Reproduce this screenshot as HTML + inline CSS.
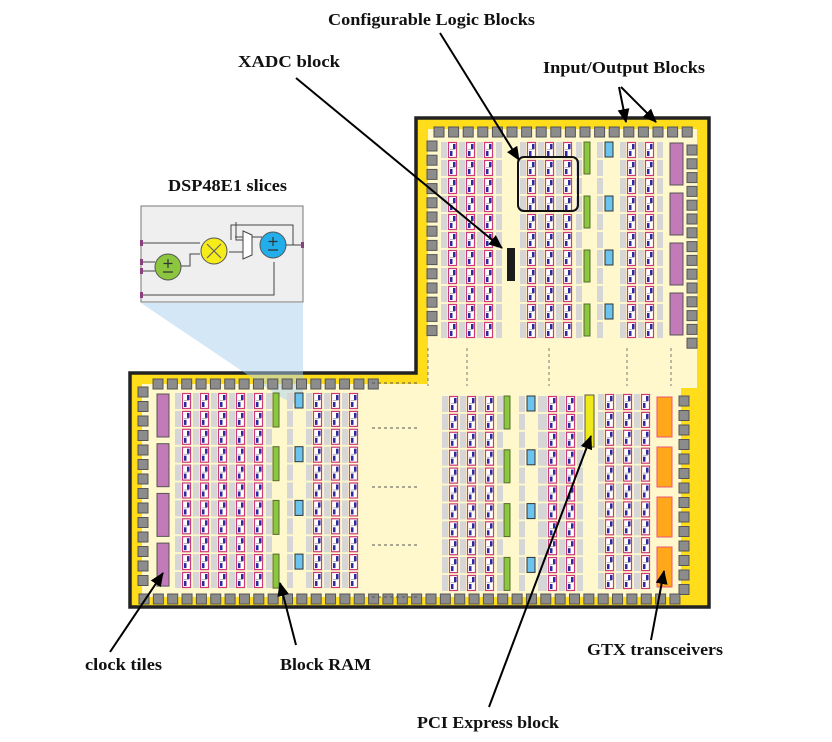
<!DOCTYPE html>
<html><head><meta charset="utf-8"><style>
html,body{margin:0;padding:0;background:#fff;}
svg{display:block}
text{font-family:"Liberation Serif",serif;font-weight:bold;font-size:16.5px;fill:#111}
</style></head><body>
<svg id="s" width="832" height="742" viewBox="0 0 832 742" xmlns="http://www.w3.org/2000/svg">
<defs>
<marker id="ah2" markerWidth="14" markerHeight="14" refX="13" refY="7" orient="auto" markerUnits="userSpaceOnUse" viewBox="0 0 14 14">
<path d="M0,1 L14,7 L0,13 z" fill="#000"/></marker>
</defs>
<g id="g"></g>
<text x="328" y="25" textLength="207" lengthAdjust="spacingAndGlyphs">Configurable Logic Blocks</text>
<text x="238" y="67" textLength="102" lengthAdjust="spacingAndGlyphs">XADC block</text>
<text x="543" y="73" textLength="162" lengthAdjust="spacingAndGlyphs">Input/Output Blocks</text>
<text x="168" y="191" textLength="119" lengthAdjust="spacingAndGlyphs">DSP48E1 slices</text>
<text x="85" y="670" textLength="77" lengthAdjust="spacingAndGlyphs">clock tiles</text>
<text x="280" y="670" textLength="91" lengthAdjust="spacingAndGlyphs">Block RAM</text>
<text x="587" y="655" textLength="136" lengthAdjust="spacingAndGlyphs">GTX transceivers</text>
<text x="417" y="728" textLength="142" lengthAdjust="spacingAndGlyphs">PCI Express block</text>
</svg>
<script>
var h='';
function R(x,y,w,hh,f,st,sw,extra){h+='<rect x="'+x+'" y="'+y+'" width="'+w+'" height="'+hh+'" fill="'+f+'"'+(st?' stroke="'+st+'" stroke-width="'+(sw||1)+'"':'')+(extra||'')+'/>';}
function L(x1,y1,x2,y2,st,sw,extra){h+='<line x1="'+x1+'" y1="'+y1+'" x2="'+x2+'" y2="'+y2+'" stroke="'+st+'" stroke-width="'+sw+'"'+(extra||'')+'/>';}
h+='<path d="M416,118 L709,118 L709,607 L130,607 L130,373 L416,373 Z" fill="#FFDD1A" stroke="#222" stroke-width="3.5"/>';
h+='<path d="M428,129 L697,129 L697,388 L681,388 L681,597 L142,597 L142,384 L428,384 Z" fill="#FFF8CC"/>';
h+='<path d="M141,303 L303,303 L303,408 L282,398 Z" fill="#a9cff0" opacity="0.5"/>';
function P(x,y){R(x,y,10,10,'#8c8c8c','#555',1);}
for(var x=434;x<=685;x+=14.6)P(x,127);
for(var y=141;y<=330;y+=14.2)P(427,y);
for(var y=145;y<=340;y+=13.8)P(687,y);
for(var y=396;y<=586;y+=14.5)P(679,y);
for(var x=139;x<=684;x+=14.35)P(x,594);
for(var x=153;x<=370;x+=14.35)P(x,379);
for(var y=387;y<=585;y+=14.5)P(138,y);
function G(x,y){R(x,y,6,16,'#d6d6d6');}
function C(x,y){R(x+0.5,y+0.5,8,15,'#fff','#cc3a7a',1.2);R(x+5,y+2,2.5,5,'#2b2b9e');R(x+2,y+9,2.5,5,'#2b2b9e');L(x+2,y+7.5,x+7,y+7.5,'#888',0.6);}
function col(type,x,y0,n,p){for(var i=0;i<n;i++){var y=y0+i*p;if(type=='c'){G(x-7,y);C(x,y);}else G(x,y);}}
var ty=142,tp=18;
[448,466,484].forEach(function(x){col('c',x,ty,11,tp);});
col('g',496,ty,11,tp);
[527,545,563].forEach(function(x){col('c',x,ty,11,tp);});
col('g',576,ty,11,tp);
col('g',597,ty,11,tp);
[627,645].forEach(function(x){col('c',x,ty,11,tp);});
col('g',657,ty,11,tp);
R(507,248,8,33,'#1a1a1a');
for(var k=0;k<4;k++){R(584,142+k*54,6,32,'#8dc63f','#556b2f',1);R(605,142+k*54,8,15,'#6cc3ee','#333',1);}
for(var k=0;k<4;k++)R(670,143+k*50,13,42,'#c27bb8','#555',1);
h+='<rect x="518" y="157" width="60" height="54" rx="6" fill="none" stroke="#111" stroke-width="2"/>';
var by=393,bp=17.9;
[182,200,218,236,254].forEach(function(x){col('c',x,by,11,bp);});
col('g',266,by,11,bp);col('g',287,by,11,bp);
[313,331,349].forEach(function(x){col('c',x,by,11,bp);});
for(var k=0;k<4;k++){R(273,393+k*53.7,6,34,'#8dc63f','#556b2f',1);R(295,393+k*53.7,8,15,'#6cc3ee','#333',1);}
for(var k=0;k<4;k++)R(157,394+k*49.7,12,43,'#c27bb8','#555',1);
[383,428,487,545,597].forEach(function(y){L(372,y,420,y,'#555',1,' stroke-dasharray="3,3"');});
var ry=396,rp=17.9;
[449,467,485].forEach(function(x){col('c',x,ry,11,rp);});
col('g',497,ry,11,rp);col('g',519,ry,11,rp);col('g',538,ry,11,rp);
[548,566].forEach(function(x){col('c',x,ry,11,rp);});
col('g',577,ry,11,rp);
[605,623,641].forEach(function(x){col('c',x,ry-2,11,rp);});
for(var k=0;k<4;k++){R(504,396+k*53.8,6,33,'#8dc63f','#556b2f',1);R(527,396+k*53.8,8,15,'#6cc3ee','#333',1);}
R(585,395,9,52,'#eeea1a','#555',1);
for(var k=0;k<4;k++)R(657,397+k*50,15,40,'#ffa81a','#ee5577',1);
[428,467,549,627,671].forEach(function(x){L(x,348,x,386,'#777',1,' stroke-dasharray="3,3"');});
R(141,206,162,96,'#efefef','#777',1);
var d='';
d+='<g stroke="#444" stroke-width="1" fill="none">';
d+='<path d="M142,243 L200,243 M142,262 L155,262 M142,271 L155,271 M142,295 L274,295 L274,262 M181,266 L190,266 L190,254 L200,254 M229,252 L248,252 M231,240 L231,225 L293,225 L293,245 L296,245 M236,222 L236,240 L246,240 M262,237 L235,237"/>';
d+='</g>';
d+='<path d="M243,231 L252,235 L252,255 L243,259 Z" fill="#fff" stroke="#444"/>';
d+='<circle cx="168" cy="267" r="13" fill="#8cc63f" stroke="#555"/>';
d+='<circle cx="214" cy="251" r="13" fill="#f5ec1a" stroke="#555"/>';
d+='<circle cx="273" cy="245" r="13" fill="#21aeea" stroke="#555"/>';
d+='<path d="M168,259 v9 M163.5,263.5 h9 M163,272 h10" stroke="#333" stroke-width="1.2"/>';
d+='<path d="M207,244 l14,14 M221,244 l-14,14" stroke="#666" stroke-width="1.2"/>';
d+='<path d="M273,237 v9 M268.5,241.5 h9 M268,250 h10" stroke="#333" stroke-width="1.2"/>';
d+='<path d="M286,245 L301,245" stroke="#444"/>';
[243,262,271,295].forEach(function(y){d+='<rect x="140" y="'+(y-3)+'" width="3" height="6" fill="#8a3f7f"/>';});
d+='<rect x="301" y="242" width="3" height="6" fill="#8a3f7f"/>';
h+=d;
function A(x1,y1,x2,y2){L(x1,y1,x2,y2,'#000',2,' marker-end="url(#ah2)"');}
A(440,33,519,160);
A(296,78,502,248);
A(619,87,626,122);
A(621,87,656,122);
A(110,652,163,573);
A(296,645,280,583);
A(651,640,664,571);
A(489,707,591,436);
document.getElementById('g').innerHTML=h;
</script>
</body></html>
